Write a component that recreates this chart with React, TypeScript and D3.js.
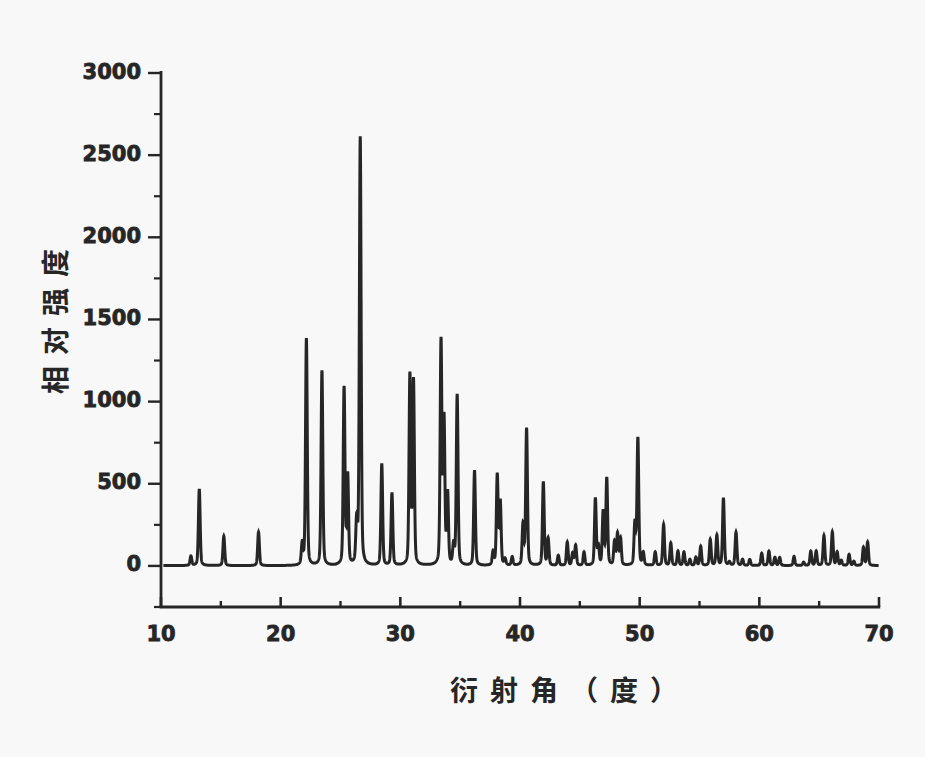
import React from "react";
import * as d3 from "d3";

const peakPositions = [
  12.5, 13.2, 15.25, 18.15, 21.8, 22.15, 23.45, 25.3, 25.6, 26.35, 26.65, 28.45, 29.3,
  30.8, 31.1, 33.4, 33.65, 33.95, 34.45, 34.75, 36.2, 37.75, 38.1, 38.35, 38.75, 39.35,
  40.25, 40.55, 41.95, 42.35, 43.2, 43.95, 44.4, 44.65, 45.35, 46.3, 46.55, 46.95, 47.25,
  47.9, 48.15, 48.4, 49.6, 49.85, 50.3, 51.3, 52.0, 52.6, 53.2, 53.7, 54.2, 54.7, 55.1,
  55.9, 56.45, 57.0, 57.5, 58.05, 58.6, 59.2, 60.2, 60.8, 61.3, 61.7, 62.9, 63.7, 64.3,
  64.75, 65.4, 66.1, 66.5, 66.85, 67.5, 67.9, 68.7, 69.05,
];
const peakIntensities = [
  57, 466, 180, 205, 126, 1380, 1185, 1076, 540, 252, 2604, 618, 440,
  1152, 1118, 1356, 874, 427, 116, 1037, 579, 81, 549, 386, 37, 51,
  244, 833, 508, 163, 61, 142, 75, 122, 81, 406, 112, 325, 528,
  142, 189, 163, 250, 773, 75, 81, 250, 136, 87, 81, 37, 50, 116,
  158, 183, 410, 20, 203, 37, 37, 75, 87, 49, 49, 55, 20, 87,
  87, 183, 203, 81, 30, 67, 25, 110, 142,
];
const xTicks = [10, 20, 30, 40, 50, 60, 70];
const xMinorTicks = [15, 25, 35, 45, 55, 65];
const yTicks = [0, 500, 1000, 1500, 2000, 2500, 3000];
const yMinorTicks = [-250, 250, 750, 1250, 1750, 2250, 2750];
const xTitle = "衍射角（度）";
const yTitle = "相对强度";

export default function App() {
  const W = 925, H = 757;
  const x = d3.scaleLinear().domain([10, 70]).range([161, 879]);
  const y = d3.scaleLinear().domain([-250, 3000]).range([607, 73]);

  // profile: sum of pseudo-Voigt peaks built from the read peak list
  const sigma = 0.07, hw = 0.1, eta = 0.25;
  const grid = d3.range(10.2, 69.98, 0.01);
  const pts: [number, number][] = grid.map((t) => {
    let v = 2;
    for (let i = 0; i < peakPositions.length; i++) {
      const d = t - peakPositions[i];
      if (Math.abs(d) > 2) continue;
      const g = Math.exp(-(d * d) / (2 * sigma * sigma));
      const l = (hw * hw) / (d * d + hw * hw);
      v += peakIntensities[i] * ((1 - eta) * g + eta * l);
    }
    return [t, v];
  });
  const line = d3.line<[number, number]>().x((d) => x(d[0])).y((d) => y(d[1]));

  const ink = "#262626";
  const tickFont = "'DejaVu Sans', sans-serif";
  const cjk = "'Noto Sans CJK SC', sans-serif";

  return (
    <svg width={W} height={H} style={{ position: "absolute", left: 0, top: 0 }}>
      <rect width={W} height={H} fill="#f8f8f8" />
      <path d={line(pts) || ""} fill="none" stroke={ink} strokeWidth={3} />
      {/* y axis */}
      <line x1={x(10)} x2={x(10)} y1={y(3000) - 2} y2={y(-250)} stroke={ink} strokeWidth={2.8} />
      {yTicks.map((t) => (
        <g key={"yt" + t}>
          <line x1={x(10) - 13} x2={x(10)} y1={y(t)} y2={y(t)} stroke={ink} strokeWidth={2.4} />
          <text x={x(10) - 20} y={y(t) - 2} dy="0.36em" textAnchor="end" fontFamily={tickFont}
            fontWeight="bold" fontSize={21} fill={ink} stroke={ink} strokeWidth={0.8}>
            {t}
          </text>
        </g>
      ))}
      {yMinorTicks.map((t) => (
        <line key={"ym" + t} x1={x(10) - 7} x2={x(10)} y1={y(t)} y2={y(t)} stroke={ink} strokeWidth={2.2} />
      ))}
      {/* x axis */}
      <line x1={x(10) - 1.4} x2={x(70) + 1.2} y1={y(-250)} y2={y(-250)} stroke={ink} strokeWidth={2.8} />
      {xTicks.map((t) => (
        <g key={"xt" + t}>
          <line x1={x(t)} x2={x(t)} y1={y(-250)} y2={y(-250) - 10} stroke={ink} strokeWidth={2.6} />
          <text x={x(t)} y={y(-250) + 26} dy="0.36em" textAnchor="middle" fontFamily={tickFont}
            fontWeight="bold" fontSize={21} fill={ink} stroke={ink} strokeWidth={0.8}>
            {t}
          </text>
        </g>
      ))}
      {xMinorTicks.map((t) => (
        <line key={"xm" + t} x1={x(t)} x2={x(t)} y1={y(-250)} y2={y(-250) - 6} stroke={ink} strokeWidth={2.4} />
      ))}
      <text x={450} y={689} dominantBaseline="central" textAnchor="start" fontFamily={cjk} fontWeight="bold"
        fontSize={28} letterSpacing={12} fill={ink}>
        {xTitle}
      </text>
      <text transform="translate(54,394) rotate(-90)" dominantBaseline="central" textAnchor="start" fontFamily={cjk}
        fontWeight="bold" fontSize={28} letterSpacing={11} fill={ink}>
        {yTitle}
      </text>
    </svg>
  );
}
